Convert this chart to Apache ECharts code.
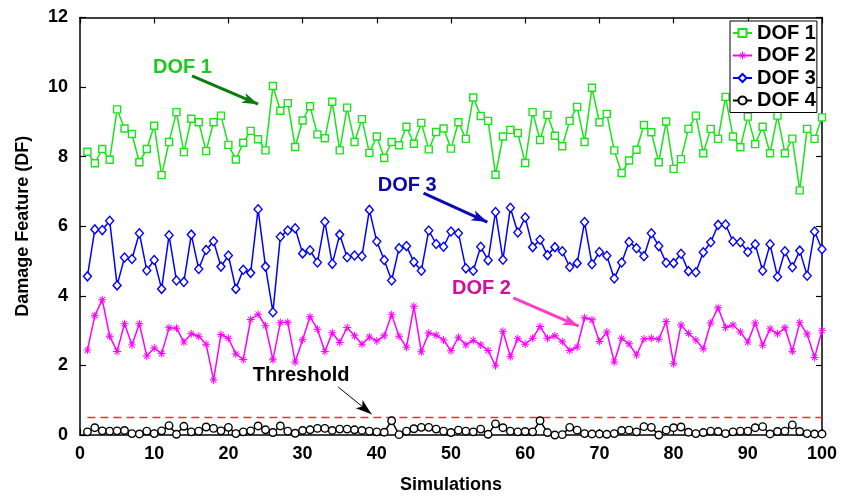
<!DOCTYPE html>
<html><head><meta charset="utf-8">
<script src="https://cdn.jsdelivr.net/npm/echarts@6/dist/echarts.min.js"></script>
<style>html,body{margin:0;padding:0;background:#fff}#c{width:842px;height:496px}</style>
</head><body><div id="c"></div>
<script>
const sims = [1,2,3,4,5,6,7,8,9,10,11,12,13,14,15,16,17,18,19,20,21,22,23,24,25,26,27,28,29,30,31,32,33,34,35,36,37,38,39,40,41,42,43,44,45,46,47,48,49,50,51,52,53,54,55,56,57,58,59,60,61,62,63,64,65,66,67,68,69,70,71,72,73,74,75,76,77,78,79,80,81,82,83,84,85,86,87,88,89,90,91,92,93,94,95,96,97,98,99,100];
const dof1 = [8.14,7.81,8.22,7.91,9.36,8.81,8.65,7.84,8.22,8.89,7.47,8.42,9.28,8.13,9.09,8.99,8.16,8.99,9.18,8.34,
7.92,8.40,8.74,8.50,8.18,10.03,9.32,9.54,8.28,9.04,9.45,8.64,8.53,9.58,8.18,9.41,8.42,9.08,8.11,8.58,
7.96,8.42,8.33,8.86,8.37,8.97,8.21,8.71,8.81,8.23,8.99,8.51,9.70,9.17,9.03,7.48,8.58,8.77,8.68,7.82,
9.28,8.48,9.20,8.60,8.30,9.03,9.43,8.42,9.98,8.99,9.23,8.18,7.53,7.89,8.20,8.91,8.70,7.84,9.01,7.65,
7.93,8.80,9.18,8.10,8.80,8.51,9.72,8.58,8.27,9.15,8.36,8.86,8.10,9.18,8.10,8.52,7.03,8.80,8.51,9.13];
const dof2 = [2.44,3.43,3.89,2.84,2.40,3.20,2.59,3.20,2.27,2.50,2.34,3.08,3.07,2.67,2.91,2.84,2.61,1.58,2.89,2.78,
2.33,2.17,3.32,3.47,3.14,2.16,3.23,3.24,2.10,2.74,3.40,3.04,2.40,2.94,2.66,3.09,2.85,2.61,2.82,2.70,
2.85,3.46,2.84,2.52,3.70,2.39,2.93,2.87,2.73,2.42,2.81,2.59,2.72,2.59,2.43,1.99,2.98,2.25,2.77,2.61,
2.78,3.12,2.78,2.85,2.68,2.43,2.53,3.37,3.31,2.69,2.96,2.10,2.78,2.62,2.30,2.76,2.78,2.75,3.26,2.05,
3.16,2.92,2.73,2.48,3.22,3.66,3.09,3.16,2.96,2.67,3.22,2.58,3.05,2.91,3.08,2.41,3.23,2.90,2.23,3.00];
const dof3 = [4.56,5.91,5.89,6.16,4.30,5.10,5.06,5.80,4.73,5.03,4.20,5.74,4.44,4.40,5.76,4.77,5.32,5.57,4.84,5.16,
4.20,4.75,4.66,6.49,4.84,3.53,5.70,5.88,5.94,5.22,5.31,4.96,6.13,4.92,5.76,5.11,5.16,5.14,6.47,5.56,
5.03,4.44,5.37,5.43,4.97,4.72,5.88,5.49,5.41,5.85,5.80,4.79,4.72,5.41,5.02,6.41,5.04,6.53,5.82,6.25,
5.40,5.61,5.17,5.40,5.28,4.83,4.94,6.12,4.91,5.26,5.15,4.50,4.96,5.55,5.37,5.14,5.80,5.43,4.95,4.94,
5.21,4.71,4.68,5.25,5.54,6.04,6.05,5.56,5.54,5.26,5.48,4.72,5.48,4.55,5.28,4.82,5.30,4.58,5.85,5.34];
const dof4 = [0.09,0.21,0.12,0.11,0.12,0.13,0.04,0.03,0.11,0.04,0.12,0.27,0.02,0.25,0.09,0.11,0.23,0.19,0.12,0.22,
0.04,0.09,0.12,0.26,0.15,0.07,0.26,0.11,0.05,0.13,0.15,0.19,0.19,0.13,0.17,0.17,0.15,0.13,0.11,0.09,
0.08,0.41,0.01,0.11,0.18,0.22,0.22,0.17,0.11,0.07,0.14,0.11,0.09,0.17,0.02,0.32,0.21,0.11,0.09,0.10,
0.09,0.41,0.07,0.00,0.01,0.22,0.14,0.04,0.03,0.03,0.02,0.04,0.13,0.14,0.09,0.24,0.22,0.00,0.14,0.21,
0.23,0.08,0.04,0.07,0.11,0.10,0.04,0.09,0.11,0.11,0.21,0.24,0.03,0.10,0.11,0.29,0.10,0.04,0.03,0.03];
const threshold = 0.5;
const seriesNames = ['DOF 1','DOF 2','DOF 3','DOF 4'];

const FF = '"Liberation Sans", Arial, sans-serif';
const GREEN = '#18e418', MAG = '#ff00ff', BLUE = '#0000ff', BLACK = '#000';
const ASTER = 'path://M0,4.4L10,4.4L10,5.6L0,5.6Z M4.4,0L5.6,0L5.6,10L4.4,10Z M1.2,2L2,1.2L8.8,8L8,8.8Z M8,1.2L8.8,2L2,8.8L1.2,8Z';
const pairs = arr => sims.map((s, i) => [s, arr[i]]);

const chart = echarts.init(document.getElementById('c'), null, {renderer: 'canvas'});
const axisCommon = {
  axisLine: {show: true, onZero: false, lineStyle: {color: '#000', width: 1.5}},
  axisTick: {show: true, inside: true, length: 6, lineStyle: {color: '#000', width: 1.2}},
  splitLine: {show: false}
};
function lineSeries(name, data, color, symbol, size, hollow) {
  return {
    name, type: 'line', data: pairs(data), clip: false,
    symbol, symbolSize: size, showAllSymbol: true,
    lineStyle: {color, width: 1.5},
    itemStyle: hollow ? {color: '#fff', borderColor: color, borderWidth: 1.4} : {color, borderWidth: 0},
    emphasis: {disabled: true}
  };
}
const option = {
  animation: false,
  textStyle: {fontFamily: FF},
  grid: {left: 80, right: 20, top: 17.5, bottom: 61, containLabel: false, outerBoundsMode: 'none'},
  legend: {
    data: seriesNames, orient: 'vertical', left: 730, top: 21,
    backgroundColor: '#fff', borderColor: '#000', borderWidth: 1,
    padding: [2, 1, 2, 2], itemGap: 2.5, itemWidth: 19, itemHeight: 10,
    textStyle: {fontSize: 20, fontWeight: 'bold', color: '#000', fontFamily: FF}
  },
  xAxis: [
    Object.assign({type: 'value', min: 0, max: 100, interval: 10, position: 'bottom',
      name: 'Simulations', nameLocation: 'middle', nameGap: 41,
      nameTextStyle: {fontSize: 18, fontWeight: 'bold', color: '#000', fontFamily: FF},
      axisLabel: {fontSize: 18, fontWeight: 'bold', color: '#000', margin: 10, fontFamily: FF}}, axisCommon),
    Object.assign({type: 'value', min: 0, max: 100, interval: 10, position: 'top',
      axisLabel: {show: false}}, axisCommon)
  ],
  yAxis: [
    Object.assign({type: 'value', min: 0, max: 12, interval: 2, position: 'left',
      name: 'Damage Feature (DF)', nameLocation: 'middle', nameGap: 48,
      nameTextStyle: {fontSize: 18, fontWeight: 'bold', color: '#000', fontFamily: FF},
      axisLabel: {fontSize: 18, fontWeight: 'bold', color: '#000', margin: 12, fontFamily: FF}}, axisCommon),
    Object.assign({type: 'value', min: 0, max: 12, interval: 2, position: 'right',
      axisLabel: {show: false}}, axisCommon)
  ],
  series: [
    lineSeries('DOF 1', dof1, GREEN, 'rect', 7, true),
    lineSeries('DOF 2', dof2, MAG, ASTER, 8, false),
    lineSeries('DOF 3', dof3, BLUE, 'diamond', [8, 9], true),
    lineSeries('DOF 4', dof4, BLACK, 'circle', 7.5, true),
    {
      name: 'Threshold', type: 'line', data: [[1, threshold], [100, threshold]],
      symbol: 'none', silent: true, clip: false,
      lineStyle: {color: '#ff2a2a', width: 1.5, type: [8, 5]},
      markLine: {
        silent: true, symbol: ['none', 'arrow'], animation: false,
        label: {show: false},
        data: [
          [{coord: [15.1, 10.32], symbolSize: 13, lineStyle: {color: '#0b7d0b', width: 3, type: 'solid'}}, {coord: [24.0, 9.51]}],
          [{coord: [46.3, 6.95], symbolSize: 13, lineStyle: {color: '#0a0ab8', width: 3, type: 'solid'}}, {coord: [54.9, 6.12]}],
          [{coord: [58.4, 3.94], symbolSize: 13, lineStyle: {color: '#ff3ccf', width: 3, type: 'solid'}}, {coord: [67.2, 3.13]}],
          [{coord: [34.8, 1.38], symbolSize: 7, lineStyle: {color: '#000', width: 1, type: 'solid'}}, {coord: [39.3, 0.60]}]
        ]
      },
      markPoint: {
        silent: true, symbol: 'circle', symbolSize: 0, animation: false,
        data: [
          {coord: [13.8, 10.55], label: {show: true, formatter: 'DOF 1', color: '#1ec81e', fontSize: 20, fontWeight: 'bold', fontFamily: FF, position: 'inside'}},
          {coord: [44.1, 7.18], label: {show: true, formatter: 'DOF 3', color: '#0a0aa8', fontSize: 20, fontWeight: 'bold', fontFamily: FF, position: 'inside'}},
          {coord: [54.1, 4.22], label: {show: true, formatter: 'DOF 2', color: '#d0109c', fontSize: 20, fontWeight: 'bold', fontFamily: FF, position: 'inside'}},
          {coord: [29.8, 1.70], label: {show: true, formatter: 'Threshold', color: '#000', fontSize: 20, fontWeight: 'bold', fontFamily: FF, position: 'inside'}}
        ]
      }
    }
  ]
};
chart.setOption(option);
</script></body></html>
